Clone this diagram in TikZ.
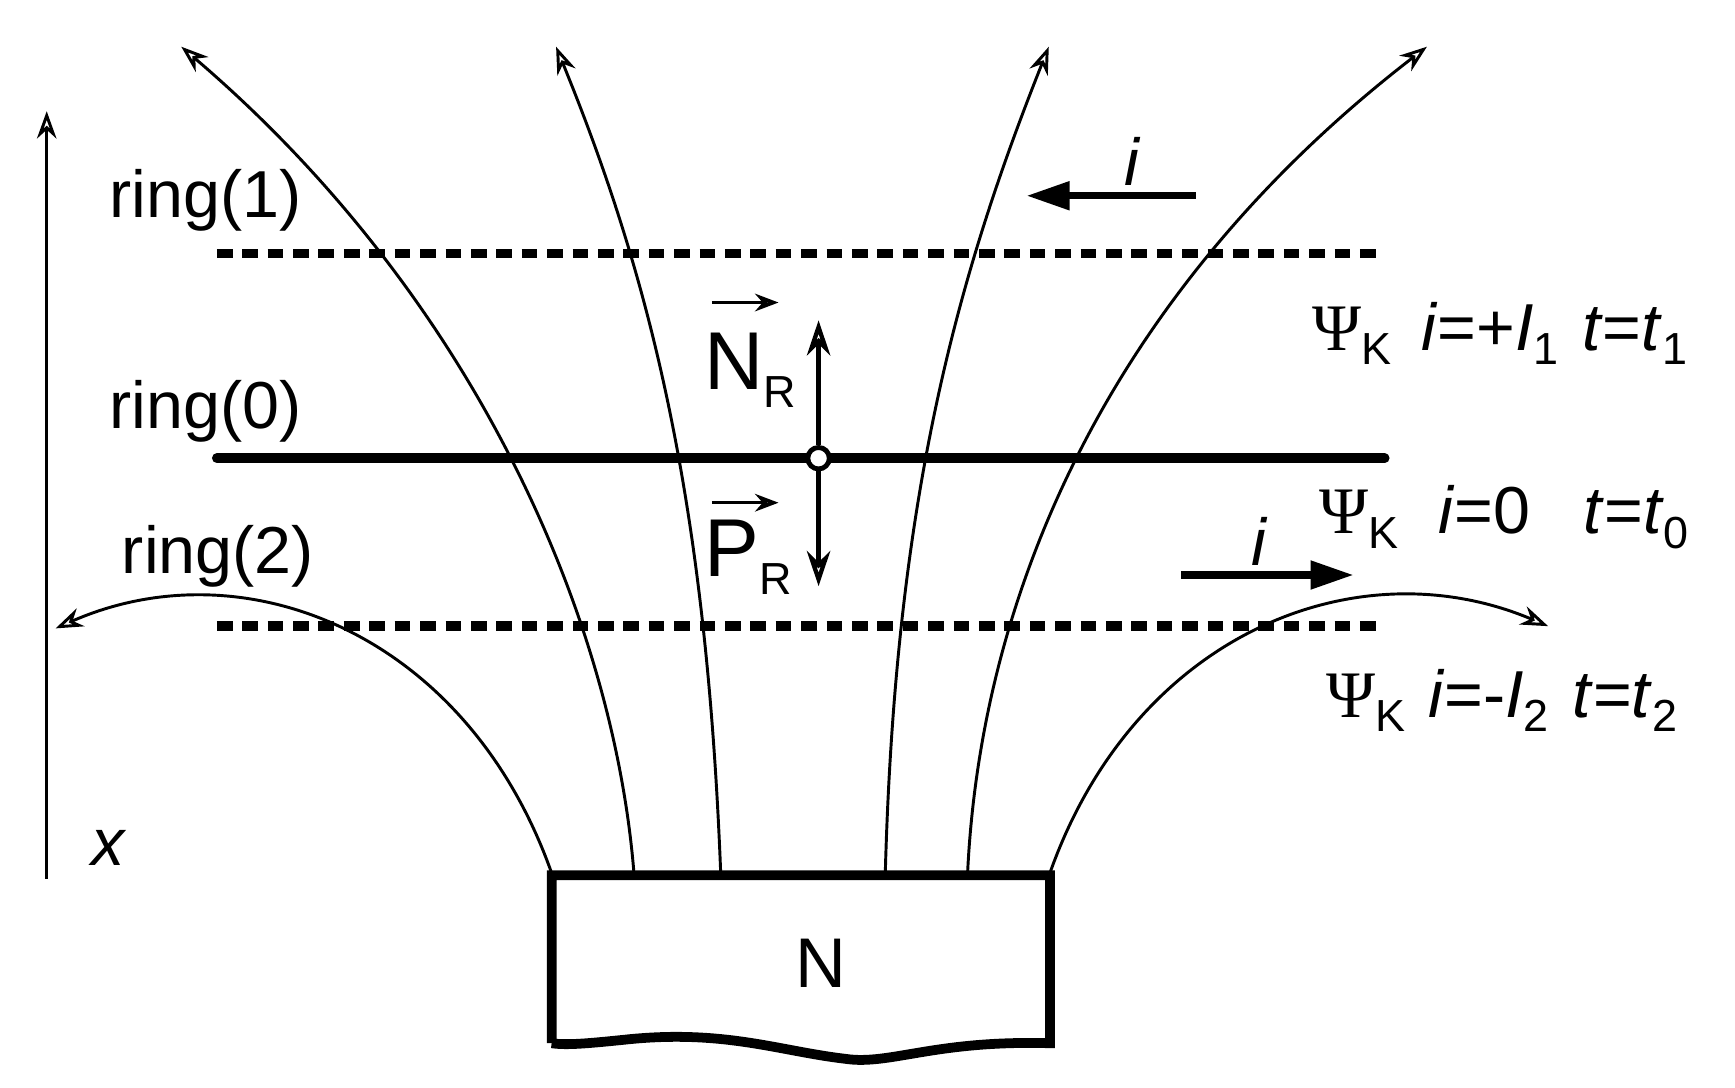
\documentclass[tikz,border=0pt]{standalone}
\usepackage{fontspec}
\usetikzlibrary{arrows.meta}
\setmainfont{Liberation Sans}
\newfontfamily\psifont{Liberation Serif}
\newcommand\mylo[1]{\raisebox{-0.22em}{\fontsize{23}{25}\selectfont #1}}
\begin{document}
\begin{tikzpicture}[x=0.02cm,y=-0.02cm,
  thin line/.style={line width=1.5pt},
  field/.style={line width=1.5pt,-{Stealth[length=14pt,width=10pt,open]}},
  ring/.style={line width=5pt},
  txt/.style={font=\fontsize{34}{40}\selectfont,inner sep=0pt},
  big/.style={font=\fontsize{42}{48}\selectfont,inner sep=0pt},
  cur/.style={line width=3.6pt,-{Triangle[length=22pt,width=14pt]}}]
\useasboundingbox (0,0) rectangle (1560,978);
% axis
\coordinate (xa) at (42,790); \coordinate (xb) at (42,100);
\draw[thin line,-{Stealth[length=14pt,width=10pt,open]}] (xa) -- (xb);
\node[txt] (xl) at (98,762) {\textit{x}};
% rings
\node[txt] (r1) at (185,180) {ring(1)};
\node[txt] (r0) at (185,370) {ring(0)};
\node[txt] (r2) at (196,500) {ring(2)};
\coordinate (a1) at (195,228); \coordinate (b1) at (1245,228);
\coordinate (a0) at (195,412); \coordinate (b0) at (1245,412);
\coordinate (a2) at (195,563); \coordinate (b2) at (1245,563);
\draw[ring,dash pattern=on 8pt off 5pt] (a1) -- (b1);
\draw[ring,line cap=round] (a0) -- (b0);
\draw[ring,dash pattern=on 8pt off 5pt] (a2) -- (b2);
% field lines
\draw[field] (496,785) .. controls (420,570) and (220,490) .. (50,565);
\draw[field] (944,785) .. controls (1020,570) and (1220,490) .. (1392,563);
\draw[field] (570,785) .. controls (552,560) and (430,270) .. (163,42);
\draw[field] (648,785) .. controls (635,450) and (585,250) .. (500,42);
\draw[field] (796,785) .. controls (805,450) and (860,250) .. (943,42);
\draw[field] (870,785) .. controls (882,530) and (1000,260) .. (1283,42);
% force arrows
\node[circle,draw,line width=2.5pt,fill=white,minimum size=11pt,inner sep=0pt] (c) at (736,412) {};
\coordinate (up) at (736,288); \coordinate (dn) at (736,527);
\draw[line width=2.2pt,-{Stealth[length=18pt,width=12pt,open]}] (c) -- (up);
\draw[line width=2.2pt,-{Stealth[length=18pt,width=12pt,open]}] (c) -- (dn);
\node[big,anchor=base west] (NR) at (633,350) {N\mylo{R}};
\node[big,anchor=base west] (PR) at (633,518) {P\mylo{R}};
\coordinate (n1) at (640,272); \coordinate (n2) at (700,272);
\coordinate (p1) at (640,452); \coordinate (p2) at (700,452);
\draw[line width=1.8pt,-{Stealth[length=12pt,width=9pt,open]}] (n1) -- (n2);
\draw[line width=1.8pt,-{Stealth[length=12pt,width=9pt,open]}] (p1) -- (p2);
% currents
\coordinate (i1a) at (1075,176); \coordinate (i1b) at (923,176);
\draw[cur] (i1a) -- (i1b);
\node[txt] (i1) at (1018,145) {\textit{i}};
\coordinate (i2a) at (1062,517); \coordinate (i2b) at (1217,517);
\draw[cur] (i2a) -- (i2b);
\node[txt] (i2) at (1133,487) {\textit{i}};
% labels
\node[txt,anchor=base west] (L1) at (1180,315) {{\psifont Ψ}\mylo{K}\hspace{0.45em}\textit{i}=+\textit{I}\mylo{1}\hspace{0.35em}\textit{t}=\textit{t}\mylo{1}};
\node[txt,anchor=base west] (L0) at (1186,480) {{\psifont Ψ}\mylo{K}\hspace{0.6em}\textit{i}=0\hspace{0.8em}\textit{t}=\textit{t}\mylo{0}};
\node[txt,anchor=base west] (L2) at (1192,645) {{\psifont Ψ}\mylo{K}\hspace{0.35em}\textit{i}=-\textit{I}\mylo{2}\hspace{0.35em}\textit{t}=\textit{t}\mylo{2}};
% magnet
\draw[line width=5pt,line join=miter] (496,938) -- (496,787) -- (944,787) -- (944,938)
  .. controls (840,935) and (800,958) .. (760,952)
  .. controls (700,945) and (650,925) .. (560,935)
  .. controls (530,938) and (510,940) .. (496,938);
\node[txt,font=\fontsize{36}{40}\selectfont] (N) at (738,866) {N};
\end{tikzpicture}
\end{document}
